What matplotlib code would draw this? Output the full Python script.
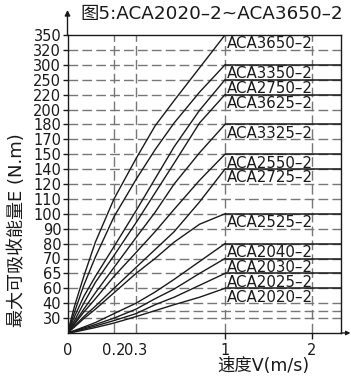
import numpy as np
import matplotlib.pyplot as plt

plt.rcParams['font.family'] = ['DejaVu Sans', 'Noto Sans CJK SC']

# tick values (both axes are drawn on an uneven, piecewise scale)
x_ticks = [0, 0.2, 0.3, 1, 2]
x_ticklabels = ['0', '0.2', '0.3', '1', '2']
y_ticks = [30, 40, 60, 65, 70, 80, 90, 100, 110, 120, 140, 150,
           170, 180, 200, 220, 250, 300, 320, 350]
y_extra_grid = [35]
x_max = 2.33

# model names and the energy where each curve levels off (at V = 1 m/s)
models = ['ACA3650–2', 'ACA3350–2', 'ACA2750–2', 'ACA3625–2', 'ACA3325–2', 'ACA2550–2',
          'ACA2725–2', 'ACA2525–2', 'ACA2040–2', 'ACA2030–2', 'ACA2025–2', 'ACA2020–2']
levels = [350, 300, 250, 220, 180, 150, 140, 100, 80, 70, 65, 60]

# points, E (N.m) at these speeds V (m/s)
v_pts = [0, 0.03, 0.07, 0.12, 0.2, 0.3, 0.45, 0.6, 0.8, 1.0]
e_3650 = [0, 38, 64, 81, 110, 147, 179, 212, 290, 350]
e_3350 = [0, 34, 61, 71, 98, 126, 156, 182, 225, 300]
e_2750 = [0, 31, 49, 64, 78, 102, 127, 160, 199, 250]
e_3625 = [0, 25, 40, 62, 72, 94, 114, 144, 182, 220]
e_3325 = [0, 20, 36, 54, 67, 84, 101, 120, 152, 180]
e_2550 = [0, 18, 34, 46, 64, 74, 88, 103, 125, 150]
e_2725 = [0, 14, 31, 38, 60, 67, 76, 88, 108, 140]
e_2525 = [0, 12, 29, 36, 54, 65, 70, 81, 93, 100]
e_2040 = [0, 5, 12, 21, 33, 40, 55, 63, 69, 80]
e_2030 = [0, 4, 10, 17, 30, 36, 46, 59, 65, 70]
e_2025 = [0, 3, 8, 14, 25, 33, 39, 48, 61, 65]
e_2020 = [0, 2, 6, 11, 20, 31, 35, 39, 48, 60]
curves = [e_3650, e_3350, e_2750, e_3625, e_3325, e_2550,
          e_2725, e_2525, e_2040, e_2030, e_2025, e_2020]

# piecewise scales: value -> position on the axis
x_knots = [0, 0.2, 0.3, 1, 2, 2.33]
x_pos = [0, 46.5, 68.5, 157.5, 244.5, 273.5]
y_knots = [0, 30, 35, 40, 60, 65, 70, 80, 90, 100, 110, 120, 140, 150,
           170, 180, 200, 220, 250, 300, 320, 350]
y_pos = [0, 1, 1.5, 2, 3, 4, 5, 6, 7, 8, 9, 10, 11, 12,
         13, 14, 15, 16, 17, 18, 19, 20]

def x_fwd(v):
    return np.interp(v, x_knots, x_pos)

def x_inv(p):
    return np.interp(p, x_pos, x_knots)

def y_fwd(e):
    return np.interp(e, y_knots, y_pos)

def y_inv(p):
    return np.interp(p, y_pos, y_knots)

ink = '#1a1a1a'
grid_col = '#777777'

fig = plt.figure(figsize=(3.51, 3.78), dpi=100)
ax = fig.add_axes([67.5 / 351, 45 / 378, 273.5 / 351, 298 / 378])
ax.set_xscale('function', functions=(x_fwd, x_inv))
ax.set_yscale('function', functions=(y_fwd, y_inv))
ax.set_xlim(0, x_max)
ax.set_ylim(0, 350)

# dashed grid
for y in y_ticks[:-1] + y_extra_grid:
    ax.axhline(y, color=grid_col, lw=1.0, ls=(0, (7, 3)), zorder=1)
for x in x_ticks[1:]:
    ax.axvline(x, color=grid_col, lw=1.0, ls=(0, (7, 3)), zorder=1)

# curves and flat parts
for name, lev, e in zip(models, levels, curves):
    ax.plot(v_pts, e, color=ink, lw=1.0, zorder=3)
    ax.hlines(lev, 1, x_max, color=ink, lw=1.1, zorder=3)
    ax.annotate(name, xy=(1, lev), xytext=(1, -1.0), textcoords='offset points',
                ha='left', va='top', fontsize=10.8, color=ink, zorder=4)

# axes look
for s in ['left', 'bottom', 'top', 'right']:
    ax.spines[s].set_color(ink)
    ax.spines[s].set_linewidth(1.0)
ax.set_xticks(x_ticks)
ax.set_xticklabels(x_ticklabels)
ax.set_yticks(y_ticks)
ax.set_yticklabels([str(t) for t in y_ticks])
ax.minorticks_off()
ax.tick_params(axis='y', direction='out', length=3.5, width=1, pad=1,
               labelsize=10.5, colors=ink)
ax.tick_params(axis='x', direction='out', length=4, width=1, pad=3,
               labelsize=10.5, colors=ink)
for t in ax.xaxis.get_major_ticks()[:3]:
    t.tick1line.set_visible(False)

# axis arrows
ax.annotate('', xy=(0, 1 + 25 / 298), xytext=(0, 1), xycoords='axes fraction',
            arrowprops=dict(arrowstyle='-|>', color=ink, lw=1, mutation_scale=8,
                            shrinkA=0, shrinkB=0))
ax.annotate('', xy=(1 + 9.5 / 273.5, 0), xytext=(1, 0), xycoords='axes fraction',
            arrowprops=dict(arrowstyle='-|>', color=ink, lw=1, mutation_scale=6,
                            shrinkA=0, shrinkB=0))

fig.text(80 / 351, 1 - 14 / 378, '图5:ACA2020–2~ACA3650–2', ha='left', va='center',
         fontsize=13.2, color=ink)
fig.text(17.5 / 351, 1 - 230 / 378, '最大可吸收能量E (N.m)', rotation=90,
         ha='center', va='center', fontsize=13, color=ink)
fig.text(263.5 / 351, 1 - 366 / 378, '速度V(m/s)', ha='center', va='center',
         fontsize=12.5, color=ink)

fig.savefig('out.png', dpi=100)
